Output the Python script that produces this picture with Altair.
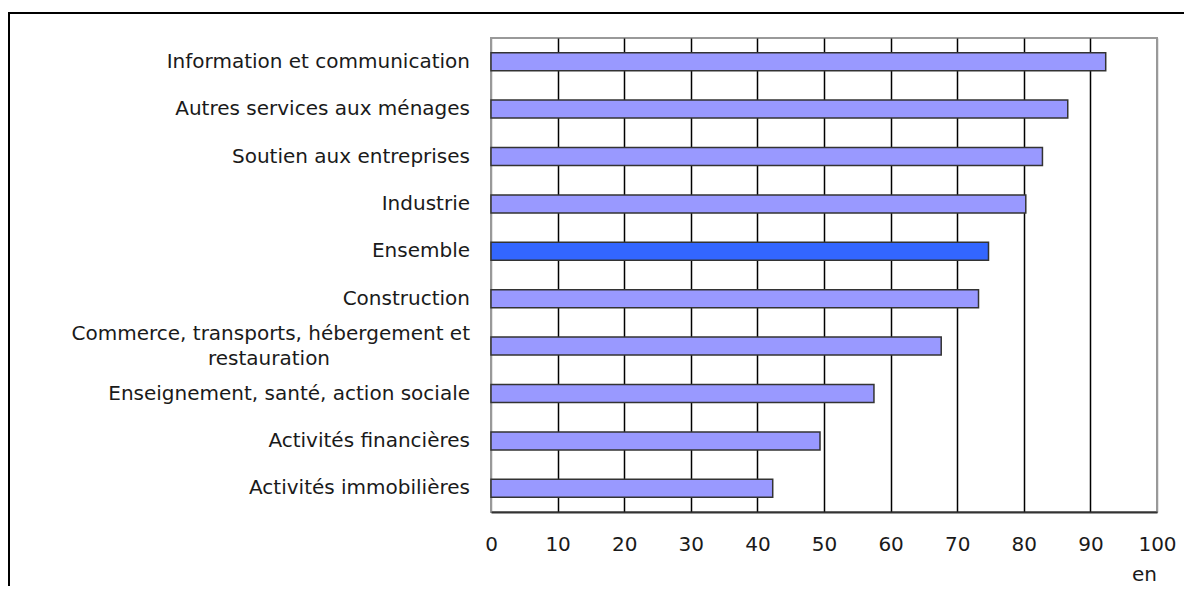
import altair as alt
import pandas as pd

categories = [
    "Information et communication",
    "Autres services aux ménages",
    "Soutien aux entreprises",
    "Industrie",
    "Ensemble",
    "Construction",
    "Commerce, transports, hébergement et restauration",
    "Enseignement, santé, action sociale",
    "Activités financières",
    "Activités immobilières",
]
values = [92.3, 86.6, 82.8, 80.3, 74.7, 73.2, 67.6, 57.5, 49.4, 42.3]
wrapped_category = "Commerce, transports, hébergement et restauration"
wrapped_lines = ["Commerce, transports, hébergement et", "restauration"]
x_ticks = [0, 10, 20, 30, 40, 50, 60, 70, 80, 90, 100]
x_unit = "en"

df = pd.DataFrame({"cat": categories, "val": values})
wrap_df = pd.DataFrame(
    {"cat": [wrapped_category] * len(wrapped_lines), "line": wrapped_lines, "n": [0, 1]}
)
frame = pd.DataFrame({"k": [0]})

FONT = "DejaVu Sans"
LABEL_SIZE = 20
TEXT_COLOR = "#1a1a1a"

y_enc = alt.Y("cat:N", sort=categories, title=None, axis=None)

bars = alt.Chart(df).mark_bar(size=18, stroke="#333333", strokeWidth=1.5).encode(
    y=y_enc,
    x=alt.X(
        "val:Q",
        scale=alt.Scale(domain=[0, 100], nice=False),
        axis=alt.Axis(
            values=x_ticks,
            title=x_unit,
            titleFont=FONT,
            titleFontSize=20,
            titleFontWeight="normal",
            titleColor=TEXT_COLOR,
            titleX=653,
            titleY=68,
            titleAlign="center",
            titleBaseline="alphabetic",
            labelFont=FONT,
            labelFontSize=20,
            labelColor=TEXT_COLOR,
            labelPadding=22,
            labelFlush=False,
            labelOverlap=False,
            ticks=False,
            domain=True,
            domainColor="#333333",
            domainWidth=2,
            grid=True,
            gridColor=alt.condition(
                "datum.value == 0 || datum.value == 100",
                alt.value("#999999"),
                alt.value("#000000"),
            ),
            gridWidth=1.5,
            gridOpacity=1,
        ),
    ),
    color=alt.condition(
        alt.datum.cat == "Ensemble", alt.value("#3366FF"), alt.value("#9999FF")
    ),
)

labels_main = (
    alt.Chart(df)
    .transform_filter(alt.datum.cat != wrapped_category)
    .mark_text(align="right", baseline="middle", font=FONT, fontSize=LABEL_SIZE, color=TEXT_COLOR)
    .encode(y=y_enc, x=alt.value(-21), text="cat:N")
)
label_line1 = (
    alt.Chart(wrap_df)
    .transform_filter(alt.datum.n == 0)
    .mark_text(align="right", baseline="middle", dy=-12.5, font=FONT, fontSize=LABEL_SIZE, color=TEXT_COLOR)
    .encode(y=y_enc, x=alt.value(-21), text="line:N")
)
label_line2 = (
    alt.Chart(wrap_df)
    .transform_filter(alt.datum.n == 1)
    .mark_text(align="center", baseline="middle", dy=12.5, font=FONT, fontSize=LABEL_SIZE, color=TEXT_COLOR)
    .encode(y=y_enc, x=alt.value(-222), text="line:N")
)

frame_v = alt.Chart(frame).mark_rule(color="#000000", strokeWidth=2).encode(
    x=alt.value(-482), y=alt.value(-25), y2=alt.value(560)
)
frame_h = alt.Chart(frame).mark_rule(color="#000000", strokeWidth=2).encode(
    x=alt.value(-483), x2=alt.value(700), y=alt.value(-25)
)

chart = (
    alt.layer(bars, labels_main, label_line1, label_line2, frame_v, frame_h)
    .properties(
        width=666,
        height=474,
        padding={"left": 483, "top": 30, "right": 27, "bottom": 74},
        autosize=alt.AutoSizeParams(type="none"),
        background="white",
    )
    .configure_view(stroke="#999999", strokeWidth=2)
)

chart.save("out.html", embed_options={"renderer": "svg", "actions": False})
